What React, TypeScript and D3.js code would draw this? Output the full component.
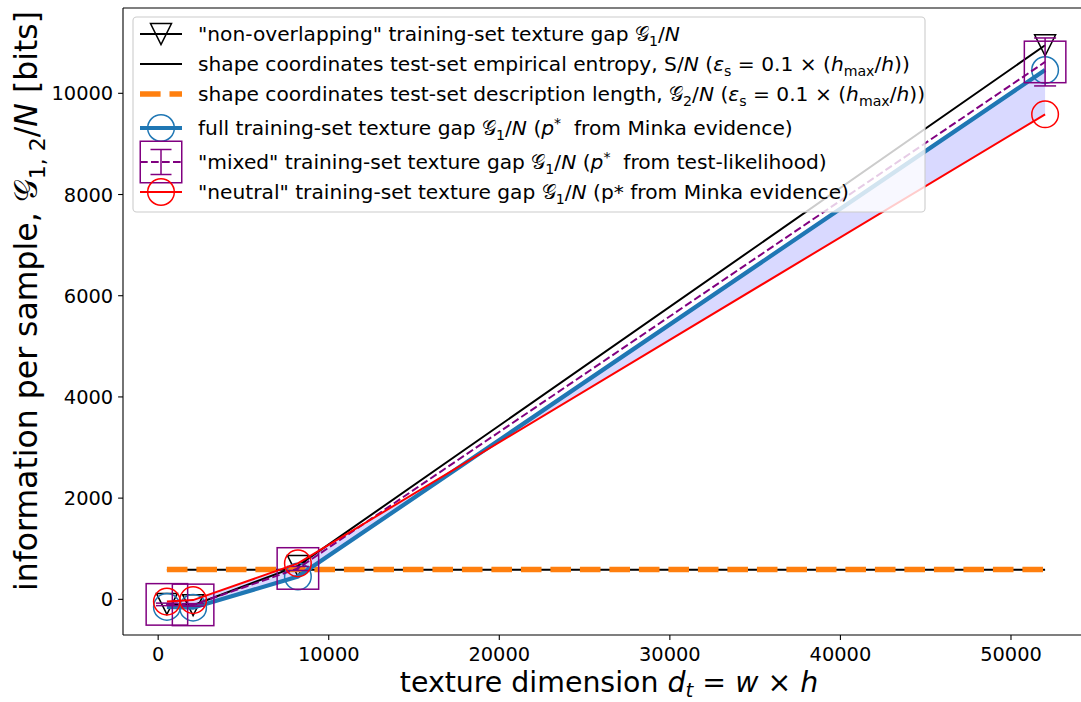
import React from "react";
import * as d3 from "d3";

// texture dimensions d_t = w × h
const dims = [512, 2048, 8192, 52000];
// training-set texture gaps G1/N [bits]
const gapNonOverlap = [-90, -115, 660, 10950];
const gapFull = [-150, -165, 450, 10460];
const gapMixed = [-100, -110, 610, 10620];
const gapMixedErr = [25, 25, 40, 474];
const gapNeutral = [-45, -15, 710, 9585];
// shape coordinates (constant over the texture range)
const shapeDims = [512, 52000];
const shapeEntropy = [585, 585];
const shapeDescLength = [590, 590];

const xTicks = [0, 10000, 20000, 30000, 40000, 50000];
const yTicks = [0, 2000, 4000, 6000, 8000, 10000];
const xLimits = [-2062, 54574];
const yLimits = [-705, 11686];

const W = 1081;
const H = 702;
const M = { left: 123, right: 1089, top: 8, bottom: 635 };
const FONT = "'DejaVu Sans', sans-serif";
const BLUE = "#1f77b4";
const ORANGE = "#ff7f0e";
const PURPLE = "#800080";
const RED = "#ff0000";

type Seg = { t: string; i?: boolean; sub?: boolean; sup?: boolean };

function Rich({ segs, fs, subShift = 0.24, ...rest }: { segs: Seg[]; fs: number; subShift?: number; [k: string]: any }) {
  let cur = 0;
  const parts = segs.map((s, k) => {
    const target = s.sub ? subShift * fs : s.sup ? -0.38 * fs : 0;
    const dy = target - cur;
    cur = target;
    return (
      <tspan
        key={k}
        dy={dy !== 0 ? dy : undefined}
        fontStyle={s.i ? "italic" : undefined}
        fontSize={s.sub || s.sup ? fs * 0.7 : undefined}
      >
        {s.t}
      </tspan>
    );
  });
  return (
    <text fontSize={fs} fontFamily={FONT} style={{ whiteSpace: "pre" }} {...rest}>
      {parts}
    </text>
  );
}

const G: Seg = { t: "𝒢" };
const epsPart: Seg[] = [
  { t: " (" },
  { t: "ε", i: true },
  { t: "s", sub: true },
  { t: " = 0.1 × (" },
  { t: "h", i: true },
  { t: "max", sub: true },
  { t: "/" },
  { t: "h", i: true },
  { t: "))" },
];

const legendLabels: Seg[][] = [
  [{ t: '"non-overlapping" training-set texture gap ' }, G, { t: "1", sub: true }, { t: "/" }, { t: "N", i: true }],
  [{ t: "shape coordinates test-set empirical entropy, S/" }, { t: "N", i: true }, ...epsPart],
  [{ t: "shape coordinates test-set description length, " }, G, { t: "2", sub: true }, { t: "/" }, { t: "N", i: true }, ...epsPart],
  [{ t: "full training-set texture gap " }, G, { t: "1", sub: true }, { t: "/" }, { t: "N", i: true }, { t: " (" }, { t: "p", i: true }, { t: "*", sup: true }, { t: "  from Minka evidence)" }],
  [{ t: '"mixed" training-set texture gap ' }, G, { t: "1", sub: true }, { t: "/" }, { t: "N", i: true }, { t: " (" }, { t: "p", i: true }, { t: "*", sup: true }, { t: "  from test-likelihood)" }],
  [{ t: '"neutral" training-set texture gap ' }, G, { t: "1", sub: true }, { t: "/" }, { t: "N", i: true }, { t: " (p* from Minka evidence)" }],
];

function triPath(cx: number, cy: number, s: number) {
  const h = s / 2;
  return `M${cx - h},${cy - h}L${cx + h},${cy - h}L${cx},${cy + h}Z`;
}

export default function App() {
  const x = d3.scaleLinear().domain(xLimits).range([M.left, M.right]);
  const y = d3.scaleLinear().domain(yLimits).range([M.bottom, M.top]);

  const line = d3
    .line<[number, number]>()
    .x((d) => x(d[0]))
    .y((d) => y(d[1]));
  const zip = (xs: number[], ys: number[]) => xs.map((v, i) => [v, ys[i]] as [number, number]);

  const area = d3
    .area<number>()
    .x((_, i) => x(dims[i]))
    .y0((_, i) => y(gapNeutral[i]))
    .y1((_, i) => y(gapFull[i]));

  const TRI = 21;
  const CIRC = 13.3;
  const SQ = 41.5;
  const CAP = 11;

  const legX = 133;
  const legY = 17;
  const legW = 792;
  const legH = 195;
  const rowY = [34, 64, 94, 128, 162, 192];
  const hx0 = 140;
  const hx1 = 182;
  const hcx = (hx0 + hx1) / 2;
  const LFS = 20.2;

  return (
    <svg
      width={W}
      height={H}
      style={{ position: "absolute", left: 0, top: 0, background: "#fff" }}
      fontFamily={FONT}
    >
      <defs>
        <clipPath id="plotClip">
          <rect x={M.left} y={M.top} width={M.right - M.left} height={M.bottom - M.top} />
        </clipPath>
      </defs>
      <rect width={W} height={H} fill="#fff" />

      <g clipPath="url(#plotClip)">
        {/* spread between full and neutral gaps */}
        <path d={area(dims) || ""} fill="#0000ff" fillOpacity={0.15} stroke="none" />

        {/* non-overlapping gap */}
        <path d={line(zip(dims, gapNonOverlap)) || ""} fill="none" stroke="#000" strokeWidth={2} />
        {dims.map((d, i) => (
          <path key={"t" + i} d={triPath(x(d), y(gapNonOverlap[i]), TRI)} fill="none" stroke="#000" strokeWidth={1.5} />
        ))}

        {/* shape coordinates */}
        <path d={line(zip(shapeDims, shapeEntropy)) || ""} fill="none" stroke="#000" strokeWidth={2} />
        <path
          d={line(zip(shapeDims, shapeDescLength)) || ""}
          fill="none"
          stroke={ORANGE}
          strokeWidth={5.6}
          strokeDasharray="20.6,8.9"
        />

        {/* full gap */}
        <path d={line(zip(dims, gapFull)) || ""} fill="none" stroke={BLUE} strokeWidth={4.2} />
        {dims.map((d, i) => (
          <circle key={"b" + i} cx={x(d)} cy={y(gapFull[i])} r={CIRC} fill="none" stroke={BLUE} strokeWidth={1.5} />
        ))}

        {/* mixed gap with error bars */}
        <path
          d={line(zip(dims, gapMixed)) || ""}
          fill="none"
          stroke={PURPLE}
          strokeWidth={2}
          strokeDasharray="7.7,3.3"
        />
        {dims.map((d, i) => {
          const cx = x(d);
          const lo = y(gapMixed[i] - gapMixedErr[i]);
          const hi = y(gapMixed[i] + gapMixedErr[i]);
          return (
            <g key={"m" + i} stroke={PURPLE} strokeWidth={1.5} fill="none">
              <line x1={cx} x2={cx} y1={lo} y2={hi} />
              <line x1={cx - CAP} x2={cx + CAP} y1={lo} y2={lo} />
              <line x1={cx - CAP} x2={cx + CAP} y1={hi} y2={hi} />
              <rect x={cx - SQ / 2} y={y(gapMixed[i]) - SQ / 2} width={SQ} height={SQ} />
            </g>
          );
        })}

        {/* neutral gap */}
        <path d={line(zip(dims, gapNeutral)) || ""} fill="none" stroke={RED} strokeWidth={2} />
        {dims.map((d, i) => (
          <circle key={"r" + i} cx={x(d)} cy={y(gapNeutral[i])} r={CIRC} fill="none" stroke={RED} strokeWidth={1.5} />
        ))}
      </g>

      {/* axes */}
      <g stroke="#000" strokeWidth={1.1} fill="none">
        <line x1={M.left} x2={M.left} y1={M.top} y2={M.bottom} />
        <line x1={M.left} x2={M.right} y1={M.bottom} y2={M.bottom} />
        <line x1={M.left} x2={M.right} y1={M.top} y2={M.top} />
        <line x1={M.right} x2={M.right} y1={M.top} y2={M.bottom} />
      </g>
      {xTicks.map((t) => (
        <g key={"xt" + t}>
          <line x1={x(t)} x2={x(t)} y1={M.bottom} y2={M.bottom + 4.9} stroke="#000" strokeWidth={1.1} />
          <text x={x(t)} y={M.bottom + 25.5} fontSize={19.4} textAnchor="middle">
            {t}
          </text>
        </g>
      ))}
      {yTicks.map((t) => (
        <g key={"yt" + t}>
          <line x1={M.left - 4.9} x2={M.left} y1={y(t)} y2={y(t)} stroke="#000" strokeWidth={1.1} />
          <text x={M.left - 9.8} y={y(t) + 7} fontSize={19.4} textAnchor="end">
            {t}
          </text>
        </g>
      ))}

      <Rich
        fs={28.4}
        subShift={0.18}
        x={(M.left + M.right) / 2 + 3}
        y={692}
        textAnchor="middle"
        segs={[
          { t: "texture dimension " },
          { t: "d", i: true },
          { t: "t", i: true, sub: true },
          { t: " = " },
          { t: "w", i: true },
          { t: " × " },
          { t: "h", i: true },
        ]}
      />
      <Rich
        fs={31.5}
        transform={`translate(37, 301) rotate(-90)`}
        textAnchor="middle"
        segs={[
          { t: "information per sample, " },
          G,
          { t: "1, 2", sub: true },
          { t: "/" },
          { t: "N", i: true },
          { t: " [bits]" },
        ]}
      />

      {/* legend */}
      <g>
        <rect
          x={legX}
          y={legY}
          width={legW}
          height={legH}
          rx={3.6}
          fill="#fff"
          fillOpacity={0.8}
          stroke="#cccccc"
          strokeWidth={1.1}
        />
        <line x1={hx0} x2={hx1} y1={rowY[0]} y2={rowY[0]} stroke="#000" strokeWidth={2} />
        <path d={triPath(hcx, rowY[0], TRI)} fill="none" stroke="#000" strokeWidth={1.5} />

        <line x1={hx0} x2={hx1} y1={rowY[1]} y2={rowY[1]} stroke="#000" strokeWidth={2} />

        <line x1={hx0} x2={hx1} y1={rowY[2]} y2={rowY[2]} stroke={ORANGE} strokeWidth={5.6} strokeDasharray="20.6,8.9" />

        <line x1={hx0} x2={hx1} y1={rowY[3]} y2={rowY[3]} stroke={BLUE} strokeWidth={4.2} />
        <circle cx={hcx} cy={rowY[3]} r={CIRC} fill="none" stroke={BLUE} strokeWidth={1.5} />

        <g stroke={PURPLE} strokeWidth={1.5} fill="none">
          <line x1={hx0} x2={hx1} y1={rowY[4]} y2={rowY[4]} strokeWidth={2} strokeDasharray="7.7,3.3" />
          <line x1={hcx} x2={hcx} y1={rowY[4] - 12.5} y2={rowY[4] + 12.5} />
          <line x1={hcx - 10.5} x2={hcx + 10.5} y1={rowY[4] - 12.5} y2={rowY[4] - 12.5} />
          <line x1={hcx - 10.5} x2={hcx + 10.5} y1={rowY[4] + 12.5} y2={rowY[4] + 12.5} />
          <rect x={hcx - SQ / 2} y={rowY[4] - SQ / 2} width={SQ} height={SQ} />
        </g>

        <line x1={hx0} x2={hx1} y1={rowY[5]} y2={rowY[5]} stroke={RED} strokeWidth={2} />
        <circle cx={hcx} cy={rowY[5]} r={CIRC} fill="none" stroke={RED} strokeWidth={1.5} />

        {legendLabels.map((segs, i) => (
          <Rich key={"lg" + i} fs={LFS} x={198} y={rowY[i] + 7.2} segs={segs} />
        ))}
      </g>
    </svg>
  );
}
